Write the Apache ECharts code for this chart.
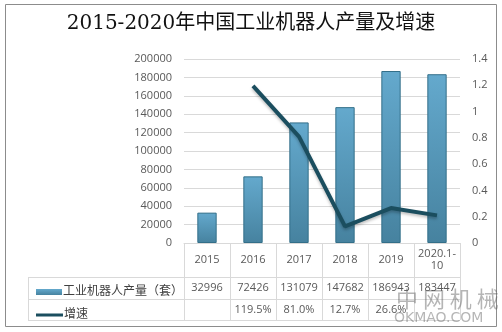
<!DOCTYPE html>
<html><head><meta charset="utf-8">
<script src="https://cdn.jsdelivr.net/npm/echarts@6/dist/echarts.min.js"></script>
<style>html,body{margin:0;padding:0;background:#fff}#c{width:502px;height:332px}</style>
</head><body><div id="c"></div>
<script>
var categories = ['2015', '2016', '2017', '2018', '2019', '2020.1-\n10'];
var production = [32996, 72426, 131079, 147682, 186943, 183447];
var growth = [null, 1.195, 0.81, 0.127, 0.266, 0.21];
var growthLabels = ['', '119.5%', '81.0%', '12.7%', '26.6%', ''];
var leftTicks = [0, 200000, 20000];
var rightTicks = [0, 1.4, 0.2];
var seriesNames = ['工业机器人产量（套）', '增速'];
var titleText = '2015-2020年中国工业机器人产量及增速';

var chart = echarts.init(document.getElementById('c'), null, {renderer: 'canvas'});
var gridL = 184, gridR = 42, gridT = 59, gridB = 89;
var labelColor = '#595959';
var lineC = '#d9d9d9';
var font = '"Open Sans","Noto Sans CJK SC",sans-serif';
var legendText = {fontFamily: font, fontSize: 12, color: '#404040', padding: [0,0,0,-4]};

chart.setOption({
  backgroundColor: '#fff',
  animation: false,
  title: {
    text: titleText, left: 'center', top: 9,
    textStyle: {fontFamily: '"DejaVu Serif","Noto Sans CJK SC",serif', fontSize: 20, fontWeight: 'normal', color: '#111'}
  },
  legend: [{
    left: 31, top: 281, itemWidth: 26, itemHeight: 6,
    textStyle: legendText,
    data: [{name: seriesNames[0], icon: 'rect', itemStyle: {borderWidth: 0}}]
  }, {
    left: 31, top: 304, itemWidth: 27, itemHeight: 3,
    textStyle: legendText,
    data: [{name: seriesNames[1], icon: 'rect', itemStyle: {color: '#1b4e5f'}}]
  }],
  grid: {left: gridL, right: gridR, top: gridT, bottom: gridB, containLabel: false},
  xAxis: [{
    type: 'category', data: categories, boundaryGap: true,
    axisLine: {show: true, lineStyle: {color: lineC}},
    axisTick: {show: true, interval: 0, length: 77, lineStyle: {color: lineC}},
    axisLabel: {interval: 0, color: labelColor, fontFamily: font, fontSize: 11, lineHeight: 12, verticalAlign: 'middle', margin: 17}
  }, {
    type: 'category', data: production.map(String), position: 'bottom', boundaryGap: true,
    axisLine: {show: false}, axisTick: {show: false},
    axisLabel: {interval: 0, color: labelColor, fontFamily: font, fontSize: 11, verticalAlign: 'middle', margin: 45}
  }, {
    type: 'category', data: growthLabels, position: 'bottom', boundaryGap: true,
    axisLine: {show: false}, axisTick: {show: false},
    axisLabel: {interval: 0, color: labelColor, fontFamily: font, fontSize: 11, verticalAlign: 'middle', margin: 67}
  }],
  yAxis: [{
    type: 'value', min: leftTicks[0], max: leftTicks[1], interval: leftTicks[2],
    axisLine: {show: false}, axisTick: {show: false},
    splitLine: {lineStyle: {color: lineC}},
    axisLabel: {color: labelColor, fontFamily: font, fontSize: 11, margin: 12, formatter: function(v){return String(v);}}
  }, {
    type: 'value', min: rightTicks[0], max: rightTicks[1], interval: rightTicks[2],
    axisLine: {show: false}, axisTick: {show: false}, splitLine: {show: false},
    axisLabel: {color: labelColor, fontFamily: font, fontSize: 11, margin: 12, formatter: function(v){return String(+v.toFixed(1));}}
  }],
  series: [{
    name: seriesNames[0], type: 'bar', data: production, barWidth: '42%', xAxisIndex: 0, yAxisIndex: 0,
    itemStyle: {
      color: new echarts.graphic.LinearGradient(0, 0, 0, 1, [
        {offset: 0, color: '#64a9cd'}, {offset: 1, color: '#46829f'}]),
      borderColor: '#336f89', borderWidth: 1
    }
  }, {
    name: seriesNames[1], type: 'line', data: growth, xAxisIndex: 0, yAxisIndex: 1,
    symbol: 'none', connectNulls: false,
    lineStyle: {color: '#1b4e5f', width: 4, shadowColor: 'rgba(0,0,0,0.25)', shadowBlur: 3, shadowOffsetY: 2},
    itemStyle: {color: '#1b4e5f'}
  }],
  graphic: [
    {type: 'rect', shape: {x: 5.5, y: 4.5, width: 491, height: 322}, style: {fill: 'none', stroke: '#8c8c8c', lineWidth: 1}, silent: true},
    {type: 'line', shape: {x1: 28, y1: 277.5, x2: 460, y2: 277.5}, style: {stroke: lineC, lineWidth: 1}},
    {type: 'line', shape: {x1: 28, y1: 299.5, x2: 460, y2: 299.5}, style: {stroke: lineC, lineWidth: 1}},
    {type: 'line', shape: {x1: 28, y1: 320.5, x2: 460, y2: 320.5}, style: {stroke: lineC, lineWidth: 1}},
    {type: 'line', shape: {x1: 28.5, y1: 277, x2: 28.5, y2: 321}, style: {stroke: lineC, lineWidth: 1}},
    {type: 'text', left: 396, top: 288, style: {text: '中 网 机 械', fill: 'rgba(90,90,90,0.45)', font: '22px "Noto Sans CJK SC"'}, z: 100},
    {type: 'text', left: 394, top: 311, style: {text: 'OKMAO.COM', fill: 'rgba(90,90,90,0.45)', font: '14px "DejaVu Sans"'}, z: 100}
  ]
});
</script>
</body></html>
